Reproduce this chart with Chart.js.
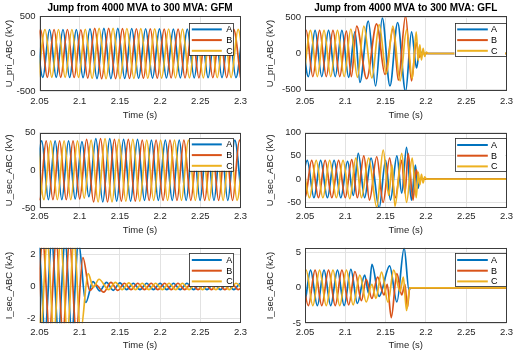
<!DOCTYPE html>
<html><head><meta charset="utf-8">
<script src="https://cdn.jsdelivr.net/npm/chart.js@4/dist/chart.umd.min.js"></script>
<style>
html,body{margin:0;padding:0;background:#fff;}
body{width:521px;height:357px;position:relative;overflow:hidden;}
canvas{position:absolute;}
</style></head><body>
<canvas id="c0"></canvas><canvas id="c1"></canvas><canvas id="c2"></canvas>
<canvas id="c3"></canvas><canvas id="c4"></canvas><canvas id="c5"></canvas>
<script>
// ---------- text / ticks ----------
const titles = ['Jump from 4000 MVA to 300 MVA: GFM', 'Jump from 4000 MVA to 300 MVA: GFL'];
const yLabels = ['U_pri_ABC (kV)', 'U_sec_ABC (kV)', 'I_sec_ABC (kA)'];
const xLabel = 'Time (s)';
const phaseLabels = ['A', 'B', 'C'];
const xTicks = [2.05, 2.1, 2.15, 2.2, 2.25, 2.3];
const yTicksPri = [-500, 0, 500];
const yTicksSecGfm = [-50, 0, 50];
const yTicksSecGfl = [-50, 0, 50, 100];
const yTicksIGfm = [-2, 0, 2];
const yTicksIGfl = [-5, 0, 5];

// ---------- U_pri GFM (peak/trough times and values) ----------
const priGfmA_t = [2.0458,2.0542,2.0625,2.0708,2.0792,2.0875,2.0958,2.1042,2.1128,2.1215,2.1301,2.1388,2.1474,2.1560,2.1647,2.1733,2.1820,2.1906,2.1992,2.2079,2.2165,2.2252,2.2338,2.2424,2.2511,2.2597,2.2684,2.2770,2.2856,2.2943,2.3029];
const priGfmA_v = [320,-318,320,-318,320,-320,318,-322,330,-334,336,-334,335,-332,333,-330,330,-328,328,-326,326,-325,325,-324,324,-323,323,-322,322,-322,322];
const priGfmB_t = [2.0431,2.0514,2.0597,2.0681,2.0764,2.0847,2.0931,2.1014,2.1100,2.1187,2.1273,2.1360,2.1446,2.1532,2.1619,2.1705,2.1792,2.1878,2.1964,2.2051,2.2137,2.2224,2.2310,2.2396,2.2483,2.2569,2.2656,2.2742,2.2828,2.2915,2.3001];
const priGfmB_v = [-318,320,-318,320,-318,320,-320,316,-328,334,-336,334,-334,332,-332,330,-330,328,-328,326,-326,325,-325,324,-324,323,-323,322,-322,322,-322];
const priGfmC_t = [2.0486,2.0569,2.0653,2.0736,2.0819,2.0903,2.0986,2.1069,2.1155,2.1242,2.1328,2.1415,2.1501,2.1587,2.1674,2.1760,2.1847,2.1933,2.2019,2.2106,2.2192,2.2279,2.2365,2.2451,2.2538,2.2624,2.2711,2.2797,2.2883,2.2970,2.3056];
const priGfmC_v = [-318,320,-318,320,-318,320,-318,322,-330,334,-336,335,-334,333,-332,331,-330,329,-328,327,-326,325,-325,324,-324,323,-323,322,-322,322,-322];

// ---------- U_pri GFL ----------
const priGflA_t = [2.0458,2.0542,2.0625,2.0708,2.0792,2.0875,2.0958,2.1042,2.1120,2.1182,2.1285,2.1376,2.1459,2.1554,2.1649,2.1748,2.1822,2.1884,2.1920,2.1960,2.3000];
const priGflA_v = [320,-320,320,-320,320,-320,320,-330,300,-400,450,-450,490,-450,430,-530,300,-200,30,0,0];
const priGflB_t = [2.0431,2.0514,2.0597,2.0681,2.0764,2.0847,2.0931,2.1014,2.1075,2.1141,2.1265,2.1389,2.1492,2.1595,2.1657,2.1748,2.1822,2.1880,2.1920,2.1950,2.3000];
const priGflB_v = [-320,320,-320,320,-320,320,-320,310,-320,380,-350,410,-290,350,-370,520,-380,150,-50,0,0];
const priGflC_t = [2.0486,2.0569,2.0653,2.0736,2.0819,2.0903,2.0986,2.1069,2.1150,2.1230,2.1330,2.1420,2.1510,2.1590,2.1680,2.1760,2.1830,2.1880,2.1905,2.1925,2.1945,2.1965,2.1985,2.2005,2.2030,2.3000];
const priGflC_v = [-320,320,-320,320,-320,320,-320,340,-330,380,-340,400,-280,380,-380,330,-350,300,-100,120,-90,70,-40,20,0,0];

// ---------- U_sec GFM ----------
const secGfmA_t = [2.0444,2.0528,2.0611,2.0694,2.0778,2.0861,2.0944,2.1028,2.1114,2.1201,2.1287,2.1374,2.1460,2.1546,2.1633,2.1719,2.1806,2.1892,2.1978,2.2065,2.2151,2.2238,2.2324,2.2410,2.2497,2.2583,2.2670,2.2756,2.2842,2.2929,2.3015];
const secGfmA_v = [-39,39,-39,39,-39,39,-38,38,-35,42,-42,42,-41,41,-41,41,-40,40,-40,40,-40,40,-40,40,-40,40,-40,40,-40,40,-40];
const secGfmB_t = [2.0417,2.0500,2.0583,2.0667,2.0750,2.0833,2.0917,2.1000,2.1086,2.1173,2.1259,2.1346,2.1432,2.1518,2.1605,2.1691,2.1778,2.1864,2.1950,2.2037,2.2123,2.2210,2.2296,2.2382,2.2469,2.2555,2.2642,2.2728,2.2814,2.2901,2.2987,2.3074];
const secGfmB_v = [39,-39,39,-39,39,-39,39,-38,41,-42,42,-42,41,-41,41,-41,40,-40,40,-40,40,-40,40,-40,40,-40,40,-40,40,-40,40,-40];
const secGfmC_t = [2.0472,2.0556,2.0639,2.0722,2.0806,2.0889,2.0972,2.1056,2.1142,2.1229,2.1315,2.1402,2.1488,2.1574,2.1661,2.1747,2.1834,2.1920,2.2006,2.2093,2.2179,2.2266,2.2352,2.2438,2.2525,2.2611,2.2698,2.2784,2.2870,2.2957,2.3043];
const secGfmC_v = [39,-39,39,-39,39,-39,39,-37,40,-42,42,-42,41,-41,41,-41,40,-40,40,-40,40,-40,40,-40,40,-40,40,-40,40,-40,40];

// ---------- U_sec GFL ----------
const secGflA_t = [2.0444,2.0528,2.0611,2.0694,2.0778,2.0861,2.0944,2.1028,2.1100,2.1161,2.1240,2.1320,2.1420,2.1500,2.1560,2.1640,2.1700,2.1760,2.1820,2.1870,2.1900,2.1930,2.3000];
const secGflA_v = [-40,40,-40,40,-40,40,-40,38,-35,55,-40,45,-62,40,-45,50,-30,68,-45,30,-20,0,0];
const secGflB_t = [2.0417,2.0500,2.0583,2.0667,2.0750,2.0833,2.0917,2.1000,2.1080,2.1150,2.1230,2.1300,2.1390,2.1470,2.1550,2.1620,2.1700,2.1740,2.1780,2.1840,2.1880,2.1910,2.3000];
const secGflB_v = [40,-40,40,-40,40,-40,40,-40,42,-40,50,-45,48,-50,45,-40,40,-30,55,-45,20,0,0];
const secGflC_t = [2.0472,2.0556,2.0639,2.0722,2.0806,2.0889,2.0972,2.1056,2.1130,2.1200,2.1290,2.1390,2.1470,2.1540,2.1580,2.1616,2.1700,2.1760,2.1830,2.1880,2.1905,2.1925,2.1945,2.1965,2.1985,2.2005,2.3000];
const secGflC_v = [40,-40,40,-40,40,-40,40,-42,45,-40,45,-60,62,-35,30,-58,55,-50,45,-40,15,-12,10,-8,5,0,0];

// ---------- I_sec GFM ----------
const iGfmA_t = [2.0402,2.0485,2.0568,2.0652,2.0735,2.0818,2.0902,2.0985,2.1075,2.1165,2.1250,2.1333,2.1417,2.1500,2.1583,2.1667,2.1750,2.1833,2.1917,2.2000,2.2083,2.2167,2.2250,2.2333,2.2417,2.2500,2.2583,2.2667,2.2750,2.2833,2.2917,2.3000,2.3083];
const iGfmA_v = [-2.8,2.8,-2.8,2.8,-2.8,2.8,-2.8,2.8,-1.0,0.3,-0.28,0.25,-0.24,0.22,-0.2,0.2,-0.2,0.2,-0.2,0.2,-0.2,0.2,-0.2,0.2,-0.2,0.2,-0.2,0.2,-0.2,0.2,-0.2,0.2,-0.2];
const iGfmB_t = [2.0458,2.0541,2.0624,2.0707,2.0791,2.0874,2.0957,2.1040,2.1125,2.1200,2.1298,2.1389,2.1472,2.1556,2.1639,2.1722,2.1806,2.1889,2.1972,2.2056,2.2139,2.2222,2.2306,2.2389,2.2472,2.2556,2.2639,2.2722,2.2806,2.2889,2.2972,2.3056];
const iGfmB_v = [-2.8,2.8,-2.8,2.8,-2.8,2.8,-2.8,1.8,-0.25,0.1,-0.35,0.25,-0.25,0.2,-0.2,0.2,-0.2,0.2,-0.2,0.2,-0.2,0.2,-0.2,0.2,-0.2,0.2,-0.2,0.2,-0.2,0.2,-0.2,0.2];
const iGfmC_t = [2.0429,2.0513,2.0596,2.0679,2.0763,2.0846,2.0929,2.1012,2.1105,2.1170,2.1240,2.1361,2.1444,2.1528,2.1611,2.1694,2.1778,2.1861,2.1944,2.2028,2.2111,2.2194,2.2278,2.2361,2.2444,2.2528,2.2611,2.2694,2.2778,2.2861,2.2944,2.3028];
const iGfmC_v = [2.8,-2.8,2.8,-2.8,2.8,-2.8,2.8,-2.8,0.8,-0.05,0.45,-0.2,0.25,-0.2,0.22,-0.2,0.2,-0.2,0.2,-0.2,0.2,-0.2,0.2,-0.2,0.2,-0.2,0.2,-0.2,0.2,-0.2,0.2,-0.2];

// ---------- I_sec GFL ----------
const iGflA_t = [2.0402,2.0486,2.0569,2.0653,2.0736,2.0819,2.0903,2.0986,2.1069,2.1150,2.1240,2.1290,2.1330,2.1420,2.1550,2.1640,2.1730,2.1790,2.1810,2.3000];
const iGflA_v = [2.5,-2.5,2.5,-2.5,2.5,-2.5,2.5,-2.5,2.6,-2.2,1.8,-0.8,3.3,-1.2,3.1,-2.0,5.6,-0.3,0,0];
const iGflB_t = [2.0458,2.0542,2.0625,2.0708,2.0792,2.0875,2.0958,2.1042,2.1120,2.1200,2.1260,2.1330,2.1400,2.1480,2.1520,2.1570,2.1640,2.1700,2.1740,2.1770,2.1800,2.3000];
const iGflB_v = [2.5,-2.5,2.5,-2.5,2.5,-2.5,2.5,-2.4,2.3,-1.8,1.2,-1.5,1.5,-1.0,0.5,-4.2,2.0,-1.0,0.5,-2.8,0,0];
const iGflC_t = [2.0431,2.0514,2.0597,2.0681,2.0764,2.0847,2.0931,2.1014,2.1097,2.1181,2.1260,2.1330,2.1380,2.1450,2.1530,2.1600,2.1680,2.1720,2.1760,2.1800,2.3000];
const iGflC_v = [-2.5,2.5,-2.5,2.5,-2.5,2.5,-2.5,2.5,-2.4,1.8,-2.0,0.5,-1.5,2.2,-2.0,2.5,-0.5,1.5,-3.2,0,0];

// ---------- styling / layout ----------
const colors = ['#0072BD', '#D95319', '#EDB120'];
const FONT = "'Liberation Sans', Arial, Helvetica, sans-serif";
const TXT = '#262626';

const panels = [
  {id:'c0', left:0, top:0, w:260, h:122, yw:39.5, padR:19.5, padT:0, xh:31, tickPad:4.6, xtPad:1.3, ytPad:3.3,
   title:titles[0], yLabel:yLabels[0], yMin:-500, yMax:500, yTicks:yTicksPri,
   series:[[priGfmA_t,priGfmA_v],[priGfmB_t,priGfmB_v],[priGfmC_t,priGfmC_v]],
   lg:{ri:7.2, ti:6.7, w:44, h:32.3, l0:2.5, l1:32.5, tx:37}},
  {id:'c1', left:260, top:0, w:261, h:122, yw:45, padR:14.5, padT:0, xh:31, tickPad:4.6, xtPad:1.3, ytPad:4.3,
   title:titles[1], yLabel:yLabels[0], yMin:-520, yMax:520, yTicks:yTicksPri,
   series:[[priGflA_t,priGflA_v],[priGflB_t,priGflB_v],[priGflC_t,priGflC_v]],
   lg:{ri:1.5, ti:6.7, w:50.5, h:33.3, l0:2.7, l1:33.3, tx:36.5}},
  {id:'c2', left:0, top:118, w:260, h:118, yw:39.5, padR:19.5, padT:14.5, xh:28, tickPad:2.6, xtPad:0.3, ytPad:3.3,
   title:null, yLabel:yLabels[1], yMin:-50, yMax:50, yTicks:yTicksSecGfm,
   series:[[secGfmA_t,secGfmA_v],[secGfmB_t,secGfmB_v],[secGfmC_t,secGfmC_v]],
   lg:{ri:7.2, ti:5.2, w:44, h:33, l0:2.5, l1:32.5, tx:37}},
  {id:'c3', left:260, top:118, w:261, h:118, yw:45, padR:14.5, padT:14.5, xh:28, tickPad:2.6, xtPad:0.3, ytPad:4.3,
   title:null, yLabel:yLabels[1], yMin:-62, yMax:100, yTicks:yTicksSecGfl,
   series:[[secGflA_t,secGflA_v],[secGflB_t,secGflB_v],[secGflC_t,secGflC_v]],
   lg:{ri:1.5, ti:5.8, w:50.5, h:33.3, l0:2.7, l1:33.3, tx:36.5}},
  {id:'c4', left:0, top:235, w:260, h:122, yw:39.5, padR:19.5, padT:12.7, xh:33.7, tickPad:3, xtPad:6.3, ytPad:3.3,
   title:null, yLabel:yLabels[2], yMin:-2.3, yMax:2.42, yTicks:yTicksIGfm,
   series:[[iGfmA_t,iGfmA_v],[iGfmB_t,iGfmB_v],[iGfmC_t,iGfmC_v]],
   lg:{ri:7.2, ti:5.6, w:44, h:33, l0:2.5, l1:32.5, tx:37}},
  {id:'c5', left:260, top:235, w:261, h:122, yw:45, padR:14.5, padT:12.7, xh:33.7, tickPad:3, xtPad:6.3, ytPad:4.3,
   title:null, yLabel:yLabels[2], yMin:-5, yMax:5.65, yTicks:yTicksIGfl,
   series:[[iGflA_t,iGflA_v],[iGflB_t,iGflB_v],[iGflC_t,iGflC_v]],
   lg:{ri:1.5, ti:5.6, w:50.5, h:33.3, l0:2.7, l1:33.3, tx:36.5}}
];

const framePlugin = {
  id: 'frameLegend',
  afterDraw(chart, args, o) {
    const ctx = chart.ctx, a = chart.chartArea;
    ctx.save();
    // axes box
    ctx.strokeStyle = '#3c3c3c';
    ctx.lineWidth = 1;
    const L = Math.round(a.left) + 0.5, T = Math.round(a.top) + 0.5;
    const R = Math.round(a.right) - 0.5, B = Math.round(a.bottom) - 0.5;
    ctx.strokeRect(L, T, R - L, B - T);
    // legend box
    const lg = o.lg;
    const bx = a.right - lg.ri - lg.w, by = a.top + lg.ti;
    ctx.fillStyle = '#fff';
    ctx.fillRect(bx, by, lg.w, lg.h);
    ctx.strokeStyle = '#262626';
    ctx.lineWidth = 0.8;
    ctx.strokeRect(Math.round(bx) + 0.5, Math.round(by) + 0.5, Math.round(lg.w), Math.round(lg.h));
    ctx.font = '9px ' + FONT;
    ctx.textBaseline = 'middle';
    ctx.textAlign = 'left';
    for (let i = 0; i < 3; i++) {
      const yy = by + 6.7 + i * 10.7;
      ctx.strokeStyle = colors[i];
      ctx.lineWidth = 2;
      ctx.beginPath();
      ctx.moveTo(bx + lg.l0, yy);
      ctx.lineTo(bx + lg.l1, yy);
      ctx.stroke();
      ctx.fillStyle = '#000';
      ctx.fillText(phaseLabels[i], bx + lg.tx, yy + 0.5);
    }
    ctx.restore();
  }
};

function build(p) {
  const el = document.getElementById(p.id);
  el.width = p.w; el.height = p.h;
  el.style.left = p.left + 'px'; el.style.top = p.top + 'px';
  el.style.width = p.w + 'px'; el.style.height = p.h + 'px';
  const datasets = p.series.map((s, i) => ({
    label: phaseLabels[i],
    data: s[0].map((t, k) => ({x: t, y: s[1][k]})),
    borderColor: colors[i],
    borderWidth: 1.7,
    pointRadius: 0,
    fill: false,
    cubicInterpolationMode: 'monotone',
    clip: 0,
    order: 2 - i
  }));
  new Chart(el, {
    type: 'line',
    data: {datasets},
    options: {
      responsive: false,
      animation: false,
      devicePixelRatio: 1,
      events: [],
      layout: {padding: {top: p.padT, right: p.padR, left: 0, bottom: 0}},
      plugins: {
        legend: {display: false},
        tooltip: {enabled: false},
        title: p.title ? {display: true, text: p.title, fullSize: false, color: '#000',
          font: {family: FONT, size: 10, weight: 'bold', lineHeight: 1.2}, padding: {top: 2.3, bottom: 1.7}} : {display: false},
        frameLegend: {lg: p.lg}
      },
      scales: {
        x: {
          type: 'linear', min: 2.05, max: 2.3,
          afterBuildTicks: s => { s.ticks = xTicks.map(v => ({value: v})); },
          afterFit: s => { s.height = p.xh; },
          grid: {color: '#e2e2e2', lineWidth: 1, drawTicks: false},
          border: {display: false},
          ticks: {autoSkip: false, maxRotation: 0, padding: p.tickPad, color: TXT,
            font: {family: FONT, size: 9.5, lineHeight: 1.2}, callback: v => String(v)},
          title: {display: true, text: xLabel, color: TXT, font: {family: FONT, size: 9.5, lineHeight: 1.2},
            padding: {top: 0, bottom: p.xtPad}}
        },
        y: {
          type: 'linear', min: p.yMin, max: p.yMax,
          afterBuildTicks: s => { s.ticks = p.yTicks.map(v => ({value: v})); },
          afterFit: s => { s.width = p.yw; },
          grid: {color: '#e2e2e2', lineWidth: 1, drawTicks: false},
          border: {display: false},
          ticks: {autoSkip: false, padding: 4, color: TXT,
            font: {family: FONT, size: 9.5, lineHeight: 1.2}, callback: v => String(v)},
          title: {display: true, text: p.yLabel, color: TXT, font: {family: FONT, size: 9.5, lineHeight: 1.2},
            padding: {top: p.ytPad, bottom: 0}}
        }
      }
    },
    plugins: [framePlugin]
  });
}
panels.forEach(build);
</script>
</body></html>
